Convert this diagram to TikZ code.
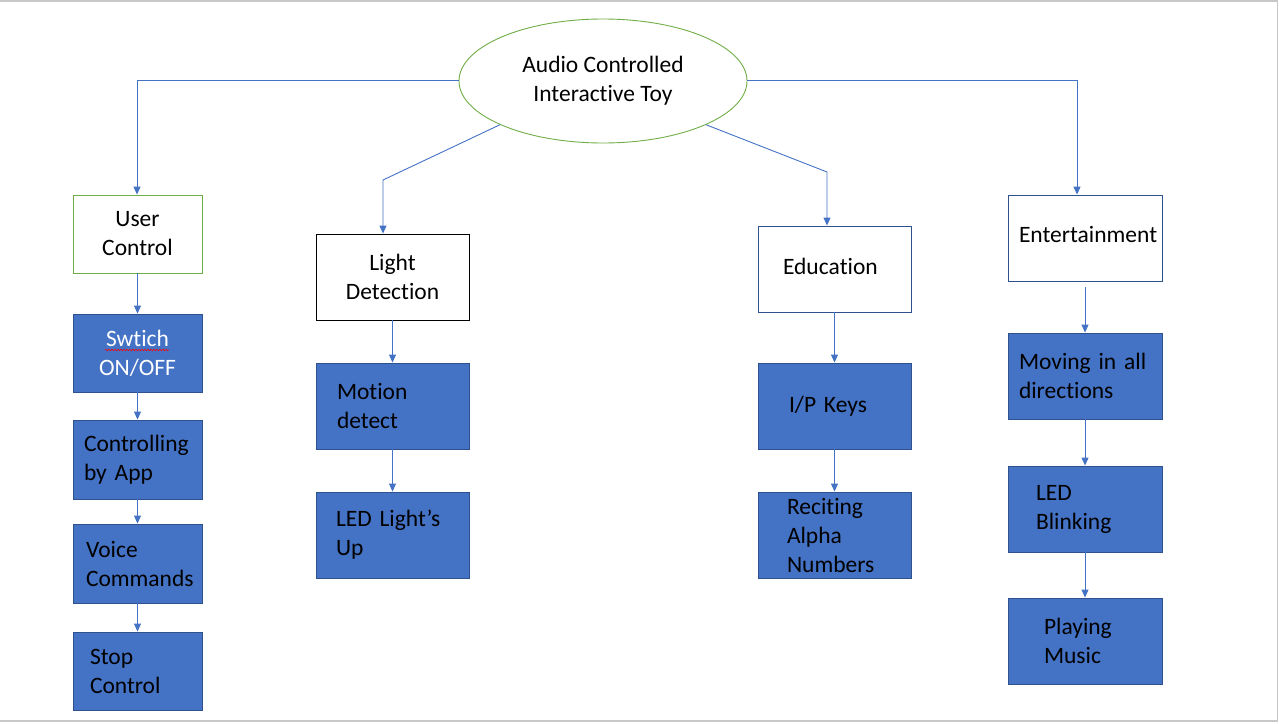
\documentclass[tikz,border=0pt]{standalone}
\usepackage{fontspec}
\setmainfont{Carlito}[Ligatures={NoCommon,NoRare,NoContextual}]
\usetikzlibrary{arrows.meta,decorations.pathmorphing,shapes.geometric}
\definecolor{boxblue}{HTML}{4472C4}
\definecolor{boxedge}{HTML}{2F528F}
\definecolor{ellgreen}{HTML}{70AD47}
\definecolor{framegray}{HTML}{C8C8C8}
\newcommand\nolig{\kern0pt }
\begin{document}
\begin{tikzpicture}[x=1pt,y=-1pt,
  font=\fontsize{23.5pt}{29pt}\selectfont,
  every node/.style={inner sep=0pt},
  conn/.style={draw=boxblue,line width=0.9pt,-{Triangle[length=8pt,width=7pt]}},
  narrowbox/.style={rectangle,minimum width=129pt,minimum height=78pt},
  widebox/.style={rectangle,minimum width=153pt,minimum height=86pt},
  filled/.style={fill=boxblue,draw=boxedge,line width=0.9pt},
  lefttext/.style={align=left,text width=#1},
  squig/.style={draw=red,line width=0.6pt,decorate,decoration={snake,segment length=3pt,amplitude=0.7pt}}
]
\useasboundingbox (0,0) rectangle (1279,723);
\draw[framegray,line width=1.5pt] (0,0.75) -- (1277.5,0.75) -- (1277.5,721) -- (0,721);

% root
\node[ellipse,draw=ellgreen,line width=0.9pt,minimum width=288pt,minimum height=124pt,align=center]
  (top) at (603,81) {Audio Controlled\\Interac\nolig tive Toy};

% column 1
\node[narrowbox,draw=ellgreen,line width=0.9pt,align=center] (uc) at (137.5,234) {User\\Control};
\node[narrowbox,filled,align=center,text=white] (sw) at (137.5,353) {Swtich\\ON/OFF};
\node[narrowbox,filled,minimum height=79pt,lefttext=107pt] (cba) at (137.5,459.5) {Controlling\\by App};
\node[narrowbox,filled,minimum height=79pt,lefttext=103pt] (vc) at (137.5,563.5) {Voice\\Commands};
\node[narrowbox,filled,lefttext=95pt] (sc) at (137.5,671) {Stop\\Control};

% column 2
\node[widebox,draw=black,line width=0.9pt,align=center] (ld) at (392.5,277) {Light\\Detec\nolig tion};
\node[widebox,filled,lefttext=111pt] (md) at (392.5,406) {Mo\nolig tion\\detect};
\node[widebox,filled,lefttext=113pt] (led) at (392.5,535) {LED Light’s\\Up};

% column 3
\node[widebox,draw=boxedge,line width=0.9pt,lefttext=103pt,text depth=5pt] (ed) at (834.5,269) {Educa\nolig tion};
\node[widebox,filled,lefttext=91pt] (ip) at (834.5,406) {I/P Keys};
\node[widebox,filled,lefttext=95pt] (ran) at (834.5,535) {Reci\nolig ting\\Alpha\\Numbers};

% column 4
\node[widebox,minimum width=154pt,draw=boxedge,line width=0.9pt,lefttext=132pt,text depth=8pt] (en) at (1085,238) {Entertainment};
\node[widebox,minimum width=154pt,filled,lefttext=132pt] (mv) at (1085,376) {Moving in all\\direc\nolig tions};
\node[widebox,minimum width=154pt,filled,lefttext=98pt] (lb) at (1085,509) {LED\\Blinking};
\node[widebox,minimum width=154pt,filled,lefttext=82pt] (pm) at (1085,641) {Playing\\Music};

% spell-check squiggle under "Swtich"
\draw[squig] (105,350) -- (169,350);

% connectors from root
\coordinate (k1) at (383,180);
\coordinate (k2) at (827,172);
\coordinate (k3) at (1077,80);
\coordinate (k4) at (137,80);
\draw[conn] (top.west |- k4) -- (k4) -- (k4 |- uc.north);
\draw[conn] (top.east |- k3) -- (k3) -- (k3 |- en.north);
\draw[conn] (top.203) -- (k1) -- (k1 |- ld.north);
\draw[conn] (top.337) -- (k2) -- (k2 |- ed.north);

% column connectors
\draw[conn] (uc.south) -- (sw.north);
\draw[conn] (sw.south) -- (cba.north);
\draw[conn] (cba.south) -- (vc.north);
\draw[conn] (vc.south) -- (sc.north);
\draw[conn] (ld.south) -- (md.north);
\draw[conn] (md.south) -- (led.north);
\draw[conn] (ed.south) -- (ip.north);
\draw[conn] (ip.south) -- (ran.north);
\draw[conn] ([yshift=-6pt]en.south) -- (mv.north);
\draw[conn] (mv.south) -- (lb.north);
\draw[conn] (lb.south) -- (pm.north);
\end{tikzpicture}
\end{document}
